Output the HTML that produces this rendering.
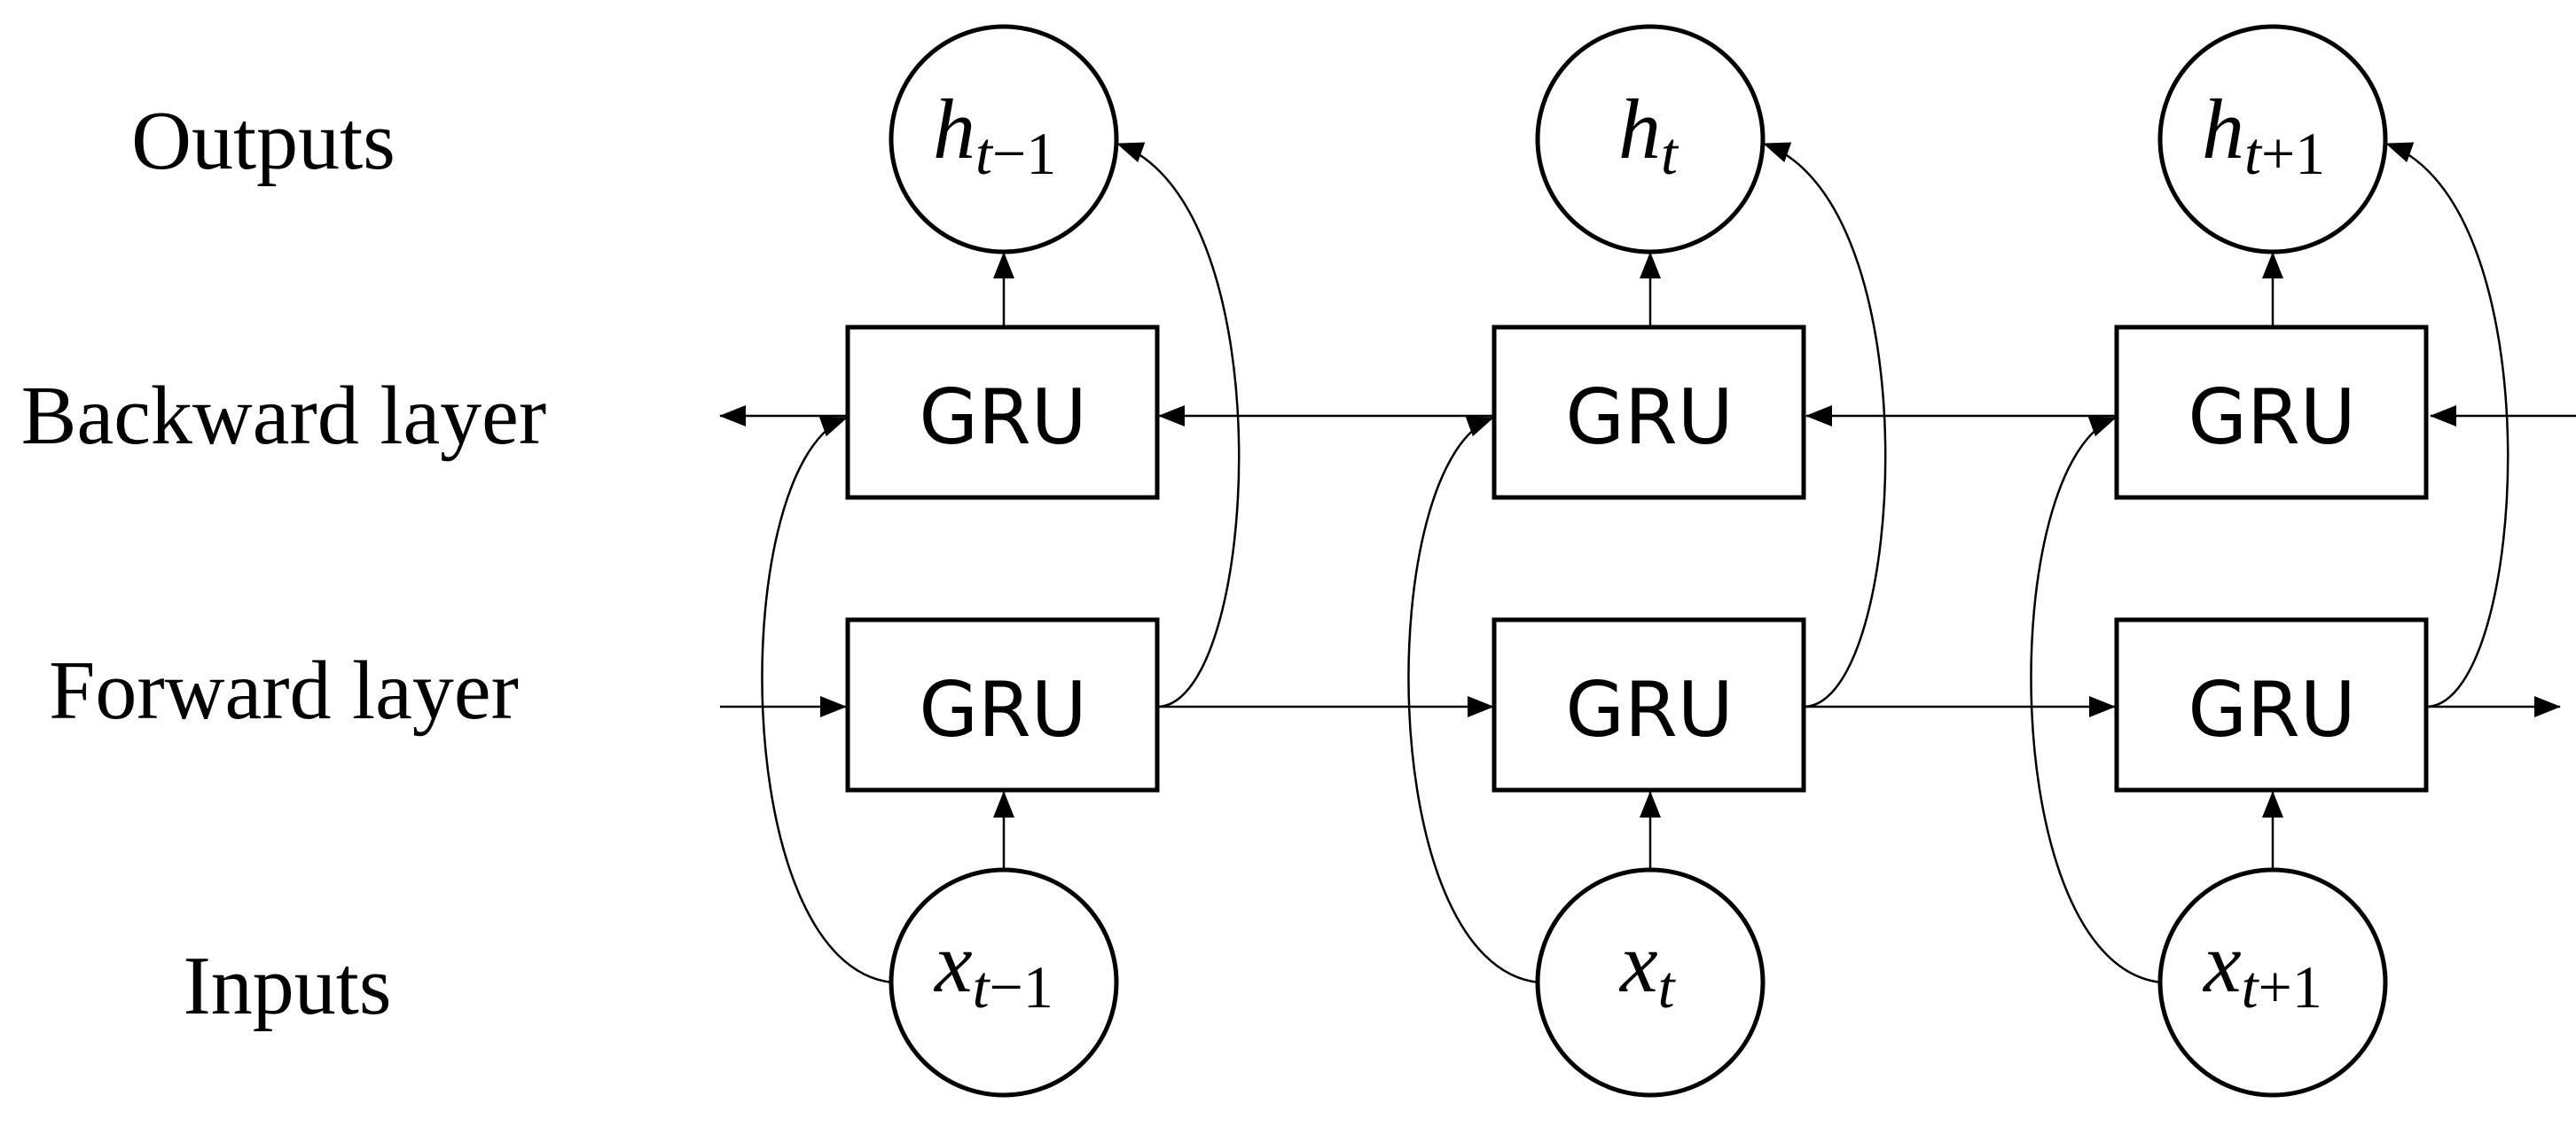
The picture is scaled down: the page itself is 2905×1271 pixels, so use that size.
<!DOCTYPE html>
<html><head><meta charset="utf-8"><style>
html,body{margin:0;padding:0;background:#fff;}
svg{display:block;}
.lab{font-family:"Liberation Serif",serif;font-size:94px;fill:#000;}
.gru{font-family:"DejaVu Sans","Liberation Sans",sans-serif;font-size:86px;fill:#000;}
.m{font-family:"Liberation Serif",serif;font-style:italic;fill:#000;}
</style></head><body>
<svg width="2905" height="1271" viewBox="0 0 2905 1271" xmlns="http://www.w3.org/2000/svg">
<defs>
<marker id="a" markerWidth="30" markerHeight="24" refX="29" refY="12" orient="auto" markerUnits="userSpaceOnUse">
<path d="M0,0 L30,12 L0,24 Z" fill="#000"/>
</marker>
<g id="col">
<circle cx="1132" cy="157" r="127" fill="none" stroke="#000" stroke-width="5"/>
<circle cx="1132" cy="1108" r="127" fill="none" stroke="#000" stroke-width="5"/>
<rect x="956" y="369" width="349" height="192" fill="none" stroke="#000" stroke-width="5"/>
<rect x="956" y="699" width="349" height="192" fill="none" stroke="#000" stroke-width="5"/>
<text x="1131" y="500" text-anchor="middle" class="gru">GRU</text>
<text x="1131" y="830" text-anchor="middle" class="gru">GRU</text>
<line x1="1132" y1="367" x2="1132" y2="285" stroke="#000" stroke-width="2.5" marker-end="url(#a)"/>
<line x1="1132" y1="980" x2="1132" y2="893" stroke="#000" stroke-width="2.5" marker-end="url(#a)"/>
<path d="M1307 797 C1420 790,1450 230,1260 162" fill="none" stroke="#000" stroke-width="2.5" marker-end="url(#a)"/>
<path d="M1007 1108 C820 1090,820 520,955 471" fill="none" stroke="#000" stroke-width="2.5" marker-end="url(#a)"/>
</g>
</defs>
<use href="#col"/>
<use href="#col" transform="translate(729,0)"/>
<use href="#col" transform="translate(1431,0)"/>
<g stroke="#000" stroke-width="2.5" marker-end="url(#a)">
<line x1="2905" y1="469" x2="2741" y2="469"/>
<line x1="2387" y1="469" x2="2037" y2="469"/>
<line x1="1686" y1="469" x2="1307" y2="469"/>
<line x1="956" y1="469" x2="812" y2="469"/>
<line x1="812" y1="797" x2="954" y2="797"/>
<line x1="1305" y1="797" x2="1684" y2="797"/>
<line x1="2035" y1="797" x2="2385" y2="797"/>
<line x1="2739" y1="797" x2="2887" y2="797"/>
</g>
<text x="297" y="190" text-anchor="middle" class="lab">Outputs</text>
<text x="320" y="500" text-anchor="middle" class="lab">Backward layer</text>
<text x="320" y="810" text-anchor="middle" class="lab">Forward layer</text>
<text x="324" y="1143" text-anchor="middle" class="lab">Inputs</text>
<text x="1052" y="178" class="m" font-size="96">h<tspan font-size="68" dy="18">t</tspan><tspan font-size="68" font-style="normal">−1</tspan></text>
<text x="1825" y="178" class="m" font-size="96">h<tspan font-size="68" dy="18">t</tspan></text>
<text x="2483" y="178" class="m" font-size="96">h<tspan font-size="68" dy="18">t</tspan><tspan font-size="68" font-style="normal">+1</tspan></text>
<text x="1054" y="1118" class="m" font-size="96">x<tspan font-size="68" dy="18">t</tspan><tspan font-size="68" font-style="normal">−1</tspan></text>
<text x="1827" y="1118" class="m" font-size="96">x<tspan font-size="68" dy="18">t</tspan></text>
<text x="2485" y="1118" class="m" font-size="96">x<tspan font-size="68" dy="18">t</tspan><tspan font-size="68" font-style="normal">+1</tspan></text>
</svg>
</body></html>
